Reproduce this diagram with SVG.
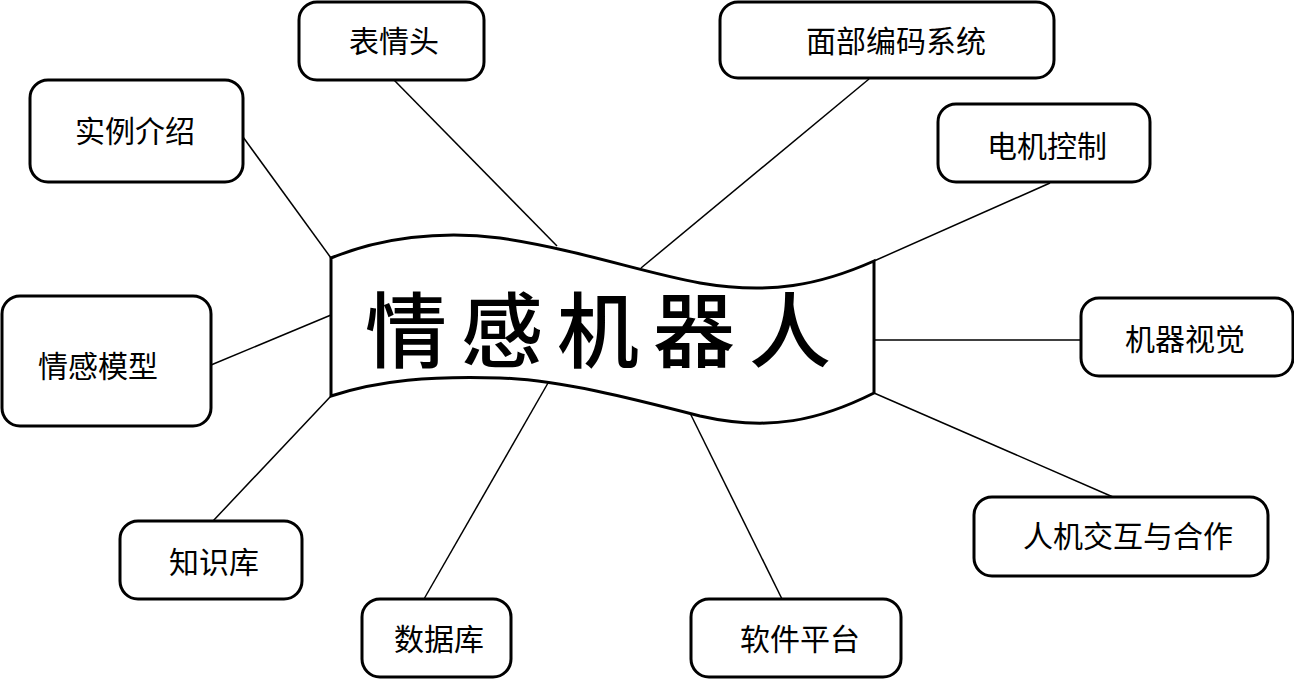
<svg xmlns="http://www.w3.org/2000/svg" width="1294" height="679" viewBox="0 0 1294 679">
<style>
.box{fill:#fff;stroke:#000;stroke-width:3}
.lbl{font-family:"Noto Sans CJK SC","Noto Sans CJK TC",sans-serif;font-size:30px;fill:#000;text-anchor:middle;dominant-baseline:central}
.conn line{stroke:#000;stroke-width:1.5}
.title{font-family:"Noto Sans CJK SC",sans-serif;font-size:82px;font-weight:500;fill:#000;text-anchor:middle;dominant-baseline:central;letter-spacing:14px}
</style>
<rect width="1294" height="679" fill="#fff"/>
<g id="connectors" class="conn">
<line x1="243" y1="137" x2="331" y2="258"/>
<line x1="394" y1="80" x2="557" y2="246"/>
<line x1="869" y1="79" x2="641" y2="268"/>
<line x1="1050" y1="183" x2="874" y2="261"/>
<line x1="874" y1="340" x2="1081" y2="340"/>
<line x1="874" y1="393" x2="1113" y2="497"/>
<line x1="690" y1="413" x2="782" y2="599"/>
<line x1="548" y1="383" x2="424" y2="599"/>
<line x1="331" y1="396" x2="213" y2="521"/>
<line x1="331" y1="315" x2="211" y2="365"/>
</g>
<g id="center">
<path d="M331,258 C380,238 440,230 500,238 C580,250 640,272 700,283 C770,295 820,285 874,261 L874,393 C820,420 770,432 700,416 C630,398 560,380 500,378 C430,376 380,380 331,396 Z" fill="#fff" stroke="#000" stroke-width="3"/>
<text class="title" x="605" y="325">情感机器人</text>
</g>
<g id="n-biaoqingtou"><rect class="box" x="299" y="2" width="185" height="78" rx="18"/><text class="lbl" x="394" y="39">表情头</text></g>
<g id="n-shili"><rect class="box" x="30" y="80" width="213" height="102" rx="18"/><text class="lbl" x="135" y="129">实例介绍</text></g>
<g id="n-mianbu"><rect class="box" x="720" y="2" width="334" height="76" rx="18"/><text class="lbl" x="896" y="39">面部编码系统</text></g>
<g id="n-dianji"><rect class="box" x="938" y="104" width="212" height="78" rx="18"/><text class="lbl" x="1047" y="144">电机控制</text></g>
<g id="n-shijue"><rect class="box" x="1081" y="298" width="212" height="78" rx="18"/><text class="lbl" x="1185" y="337">机器视觉</text></g>
<g id="n-renji"><rect class="box" x="974" y="497" width="294" height="79" rx="18"/><text class="lbl" x="1128" y="534">人机交互与合作</text></g>
<g id="n-ruanjian"><rect class="box" x="691" y="599" width="210" height="78" rx="18"/><text class="lbl" x="800" y="637">软件平台</text></g>
<g id="n-shujuku"><rect class="box" x="362" y="599" width="149" height="78" rx="18"/><text class="lbl" x="439" y="637">数据库</text></g>
<g id="n-zhishiku"><rect class="box" x="120" y="521" width="182" height="78" rx="18"/><text class="lbl" x="214" y="560">知识库</text></g>
<g id="n-moxing"><rect class="box" x="2" y="296" width="209" height="130" rx="18"/><text class="lbl" x="98" y="364">情感模型</text></g>
</svg>
